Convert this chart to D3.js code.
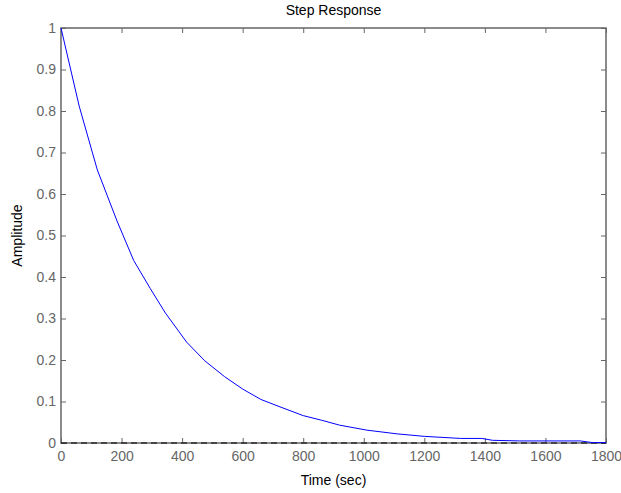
<!DOCTYPE html>
<html>
<head>
<meta charset="utf-8">
<script src="https://cdn.jsdelivr.net/npm/d3@7"></script>
<style>
	body { margin: 0; background: #fff; }
	svg { display: block; }
</style>
</head>
<body>
<div id="chart"></div>
<script>
// values
const timeSec = [0, 60, 120, 185, 240, 295, 345, 415, 475, 540, 600, 660, 720, 800, 860, 920, 1010, 1110, 1200, 1320, 1390, 1425, 1515, 1715, 1755, 1800];
const amplitude = [1, 0.812, 0.658, 0.535, 0.44, 0.372, 0.313, 0.243, 0.198, 0.16, 0.13, 0.105, 0.088, 0.066, 0.055, 0.043, 0.031, 0.022, 0.016, 0.011, 0.011, 0.0065, 0.005, 0.005, 0.001, 0.001];
const xTicks = [0, 200, 400, 600, 800, 1000, 1200, 1400, 1600, 1800];
const yTicks = [0, 0.1, 0.2, 0.3, 0.4, 0.5, 0.6, 0.7, 0.8, 0.9, 1];

const W = 621, H = 493;
const margin = { top: 28, right: 15, bottom: 50, left: 61 };
const width = W - margin.left - margin.right;
const height = H - margin.top - margin.bottom;

const svg = d3.select('#chart')
	.append('svg')
	.attr('width', W)
	.attr('height', H)
	.style('font-family', 'Liberation Sans, Arial, sans-serif');

const g = svg.append('g').attr('transform', `translate(${margin.left},${margin.top})`);

const x = d3.scaleLinear().domain([0, 1800]).range([0, width]);
const y = d3.scaleLinear().domain([0, 1]).range([height, 0]);

const axisColor = '#666';
const tickFmt = d3.format('');

function styleAxis(sel, showText) {
	sel.select('.domain').remove();
	sel.selectAll('.tick line').attr('stroke', axisColor);
	sel.selectAll('.tick text')
		.attr('fill', showText ? axisColor : 'none')
		.style('font-size', '14px');
}

// bottom and left with labels, ticks pointing inward
g.append('g')
	.attr('transform', `translate(0,${height})`)
	.call(d3.axisBottom(x).tickValues(xTicks).tickFormat(tickFmt).tickSizeInner(-5).tickSizeOuter(0).tickPadding(8))
	.call(s => styleAxis(s, true));

g.append('g')
	.call(d3.axisLeft(y).tickValues(yTicks).tickFormat(tickFmt).tickSizeInner(-5).tickSizeOuter(0).tickPadding(5))
	.call(s => styleAxis(s, true));

// top and right ticks
g.append('g')
	.call(d3.axisTop(x).tickValues(xTicks).tickFormat('').tickSizeInner(-5).tickSizeOuter(0))
	.call(s => styleAxis(s, false));

g.append('g')
	.attr('transform', `translate(${width},0)`)
	.call(d3.axisRight(y).tickValues(yTicks).tickFormat('').tickSizeInner(-5).tickSizeOuter(0))
	.call(s => styleAxis(s, false));

// box
g.append('rect')
	.attr('x', 0)
	.attr('y', 0)
	.attr('width', width)
	.attr('height', height)
	.attr('fill', 'none')
	.attr('stroke', axisColor)
	.attr('stroke-width', 1.5);

// zero reference line
g.append('line')
	.attr('x1', x(0))
	.attr('x2', x(1800))
	.attr('y1', y(0))
	.attr('y2', y(0))
	.attr('stroke', '#000')
	.attr('stroke-dasharray', '6,4');

// response curve
const line = d3.line()
	.x((d, i) => x(timeSec[i]))
	.y(d => y(d));

g.append('path')
	.datum(amplitude)
	.attr('fill', 'none')
	.attr('stroke', '#0000ff')
	.attr('stroke-width', 1)
	.attr('d', line);

svg.append('text')
	.attr('x', margin.left + width / 2)
	.attr('y', 15)
	.attr('text-anchor', 'middle')
	.style('font-size', '14px')
	.text('Step Response');

svg.append('text')
	.attr('x', margin.left + width / 2)
	.attr('y', 485)
	.attr('text-anchor', 'middle')
	.style('font-size', '14px')
	.text('Time (sec)');

svg.append('text')
	.attr('transform', 'rotate(-90)')
	.attr('x', -(margin.top + height / 2))
	.attr('y', 22)
	.attr('text-anchor', 'middle')
	.style('font-size', '14px')
	.text('Amplitude');
</script>
</body>
</html>
